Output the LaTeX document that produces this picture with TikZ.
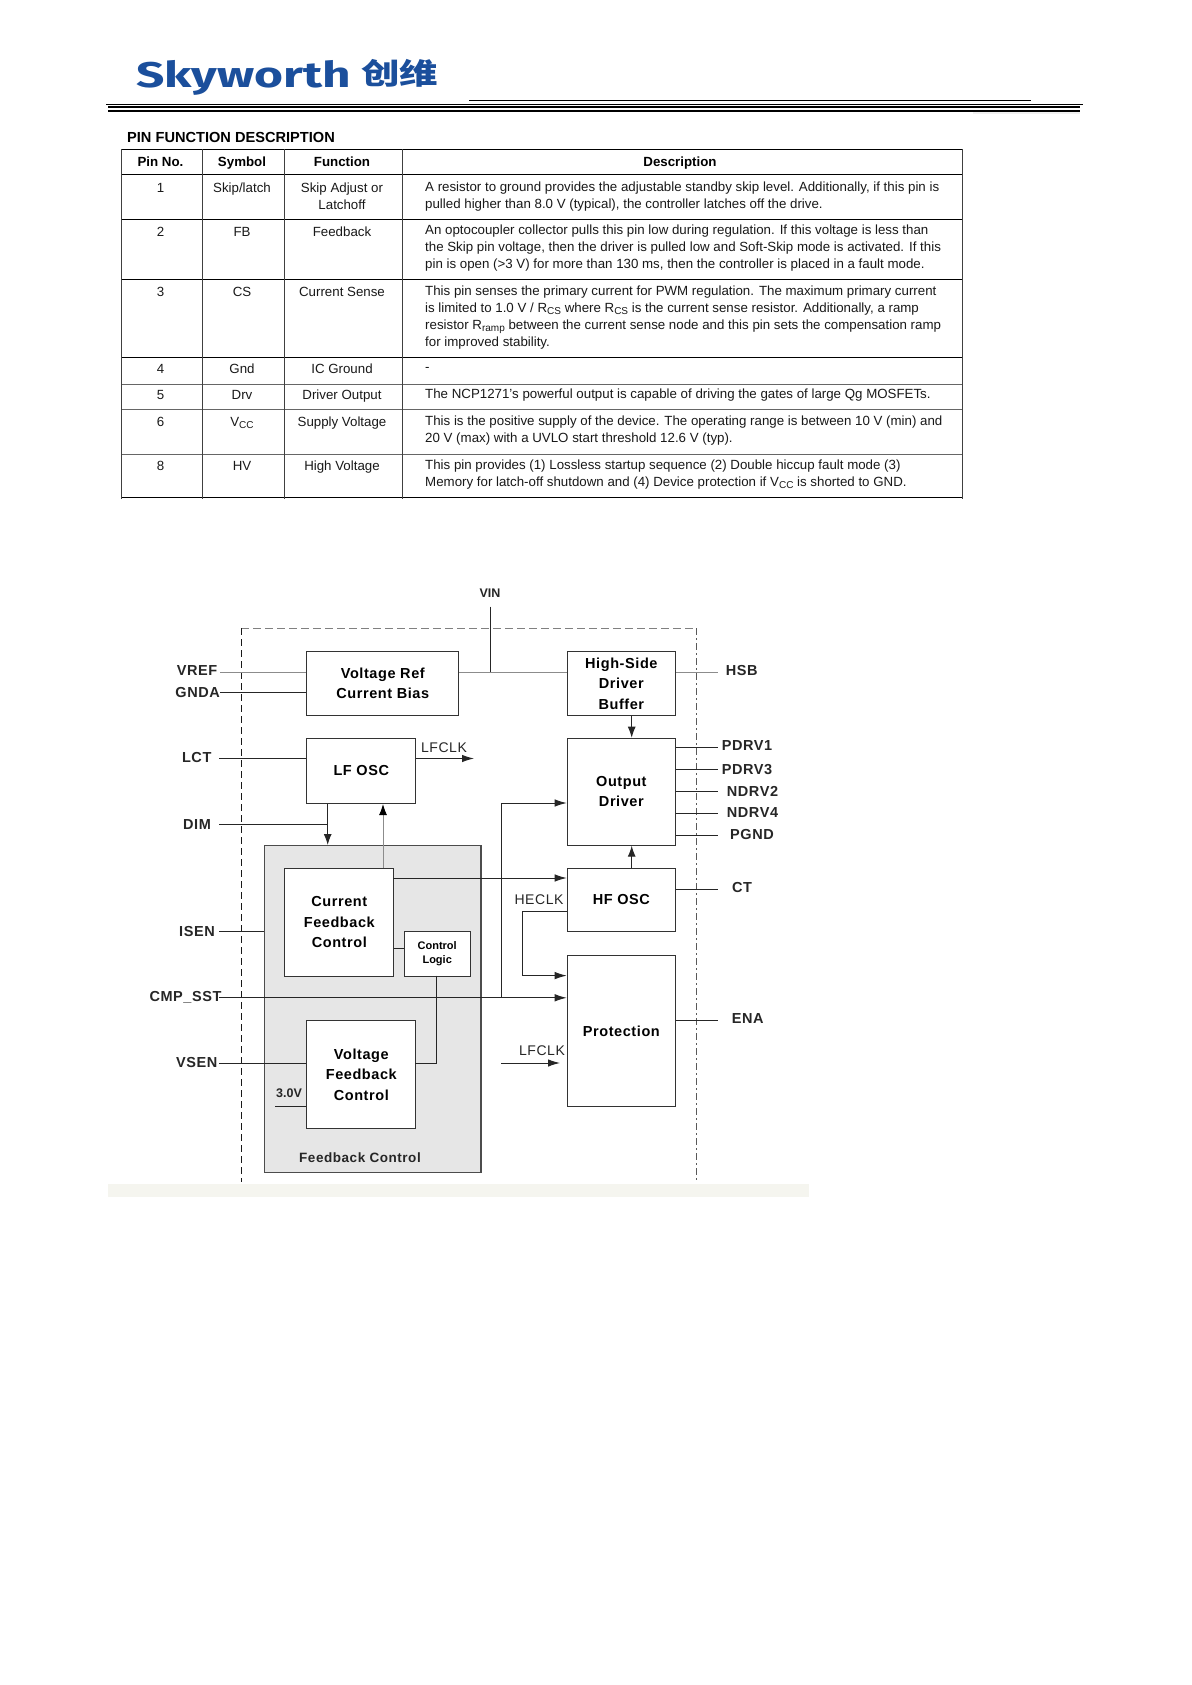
\documentclass[tikz,border=0pt]{standalone}
\usepackage{graphicx}
\usepackage{fontspec}
\setmainfont{Liberation Sans}
\newfontfamily\diagf[LetterSpace=4]{Liberation Sans}
\newfontfamily\cjkf{Noto Sans CJK SC}
\newfontfamily\logof{Fira Sans}
\usetikzlibrary{arrows.meta}
\definecolor{skyblue}{HTML}{1B4F9C}
\definecolor{fbgrey}{HTML}{E6E6E6}
\definecolor{bandc}{HTML}{F5F5EF}
\newcommand{\sbs}[1]{\smash{\raisebox{-0.3ex}{\fontsize{10}{10}\selectfont #1}}}
\tikzset{
  x=1pt,y=-1pt,
  tcell/.style={font=\fontsize{13.3}{17}\selectfont,inner sep=0pt,anchor=base,yshift=-4.6pt,text=black!90},
  tcellm/.style={font=\fontsize{13.3}{17}\selectfont,inner sep=0pt,align=center,text=black!90},
  tdesc/.style={font=\fontsize{13.3}{17}\selectfont,inner sep=0pt,align=left,anchor=west,text=black!90},
  thead/.style={font=\bfseries\fontsize{13.3}{17}\selectfont,inner sep=0pt,anchor=base,yshift=-4.6pt},
  rulea/.style={line width=1pt,black},
  ruleb/.style={line width=0.9pt,black!60},
  box/.style={draw=black!80,line width=1pt,fill=white,anchor=north west,inner sep=0pt,align=center,font=\diagf\bfseries\fontsize{14.5}{20.5}\selectfont},
  pin/.style={inner sep=0pt,font=\diagf\bfseries\fontsize{14.5}{17}\selectfont,text=black!85},
  lab/.style={inner sep=0pt,font=\diagf\fontsize{14}{17}\selectfont,text=black!85},
  wire/.style={line width=1pt,black!85},
  wirelt/.style={line width=0.9pt,black!45},
  arr/.style={wire,-{Latex[length=12pt,width=7.5pt]}},
  arrlt/.style={wirelt,-{Latex[length=11pt,width=8pt,black]}},
}
\begin{document}
\begin{tikzpicture}
\useasboundingbox (0,0) rectangle (1191,1685);
\fill[white] (0,0) rectangle (1191,1685);

% logo and header rules
\node[inner sep=0pt,anchor=west,text=skyblue] (logoa) at (136,77.5) {\resizebox*{215pt}{35pt}{\logof\bfseries Skyworth}};
\node[inner sep=0pt,anchor=west,text=skyblue] (logob) at (361,73) {\resizebox*{77pt}{28pt}{\cjkf\bfseries 创维}};
\draw[line width=1pt] (469,100.3) -- (1031,100.3);
\draw[line width=1pt] (106,104.7) -- (1083,104.7);
\draw[line width=2pt] (108,107.5) -- (1080,107.5);
\draw[line width=2pt] (108,110.7) -- (1080,110.7);
\fill[black!6] (973,112) rectangle (1080,114);

\node[inner sep=0pt,anchor=west,font=\bfseries\fontsize{14.6}{15}\selectfont] (title) at (127,137) {PIN FUNCTION DESCRIPTION};

% table rules
\foreach \yy in {149.5,175,220,280,357.5}{\draw[rulea] (121,\yy) -- (962,\yy);}
\foreach \yy in {384.3,409.3,454}{\draw[ruleb] (121,\yy) -- (962,\yy);}
\draw[rulea] (121,497) -- (962,497);
\foreach \xx in {121,202.7,284.4,402.4,962}{\draw[line width=0.8pt,black!75] (\xx,149.5) -- (\xx,498.5);}

% table head
\node[thead] (h1) at (160.5,162) {Pin No.};
\node[thead] (h2) at (242,162) {Symbol};
\node[thead] (h3) at (342,162) {Function};
\node[thead] (h4) at (680,162) {Description};

% rows
\node[tcell] (p1) at (160.5,187.7) {1};
\node[tcell] (s1) at (242,187.7) {Skip/latch};
\node[tcellm] (f1) at (342,196.2) {Skip Adjust or\\Latchoff};
\node[tdesc] (d1) at (425,196.2) {A resistor to ground provides the adjustable standby skip level. Additionally, if this pin is\\pulled higher than 8.0 V (typical), the controller latches off the drive.};
\node[tcell] (p2) at (160.5,232) {2};
\node[tcell] (s2) at (242,232) {FB};
\node[tcell] (f2) at (342,232) {Feedback};
\node[tdesc] (d2) at (425,248.5) {An optocoupler collector pulls this pin low during regulation. If this voltage is less than\\the Skip pin voltage, then the driver is pulled low and Soft-Skip mode is activated. If this\\pin is open (>3 V) for more than 130 ms, then the controller is placed in a fault mode.};
\node[tcell] (p3) at (160.5,291.7) {3};
\node[tcell] (s3) at (242,291.7) {CS};
\node[tcell] (f3) at (342,291.7) {Current Sense};
\node[tdesc] (d3) at (425,317.5) {This pin senses the primary current for PWM regulation. The maximum primary current\\is limited to 1.0 V / R\sbs{CS} where R\sbs{CS} is the current sense resistor. Additionally, a ramp\\resistor R\sbs{ramp} between the current sense node and this pin sets the compensation ramp\\for improved stability.};
\node[tcell] (p4) at (160.5,369.3) {4};
\node[tcell] (s4) at (242,369.3) {Gnd};
\node[tcell] (f4) at (342,369.3) {IC Ground};
\node[tdesc] (d4) at (425,369.3) {-};
\node[tcell] (p5) at (160.5,395) {5};
\node[tcell] (s5) at (242,395) {Drv};
\node[tcell] (f5) at (342,395) {Driver Output};
\node[tdesc] (d5) at (425,395) {The NCP1271's powerful output is capable of driving the gates of large Qg MOSFETs.};
\node[tcell] (p6) at (160.5,422) {6};
\node[tcell] (s6) at (242,422) {V\sbs{CC}};
\node[tcell] (f6) at (342,422) {Supply Voltage};
\node[tdesc] (d6) at (425,430.3) {This is the positive supply of the device. The operating range is between 10 V (min) and\\20 V (max) with a UVLO start threshold 12.6 V (typ).};
\node[tcell] (p8) at (160.5,466) {8};
\node[tcell] (s8) at (242,466) {HV};
\node[tcell] (f8) at (342,466) {High Voltage};
\node[tdesc] (d8) at (425,474.2) {This pin provides (1) Lossless startup sequence (2) Double hiccup fault mode (3)\\Memory for latch-off shutdown and (4) Device protection if V\sbs{CC} is shorted to GND.};

% bottom band
\fill[bandc] (107.5,1183.5) rectangle (809,1196.5);

% dashed boundary
\draw[line width=0.9pt,black!50,dash pattern=on 8pt off 4pt] (241.3,628) -- (696.7,628);
\draw[line width=1pt,black!90,dash pattern=on 7pt off 4pt] (241.3,628) -- (241.3,1182);
\draw[line width=1pt,black!65,dash pattern=on 7pt off 3pt on 2pt off 3pt] (696.7,628) -- (696.7,1182);

% blocks
\node[draw=black!70,line width=1.2pt,fill=fbgrey,anchor=north west,minimum width=216.6pt,minimum height=327pt,inner sep=0pt] (fb) at (263.7,845) {};
\node[box,minimum width=152pt,minimum height=64.5pt] (vref) at (306.3,650.8) {Voltage Ref\\Current Bias};
\node[box,minimum width=108.3pt,minimum height=64.5pt] (hs) at (566.7,650.8) {High-Side\\Driver\\Buffer};
\node[box,minimum width=109pt,minimum height=65.3pt] (lf) at (306.3,737.7) {LF OSC};
\node[box,minimum width=108.3pt,minimum height=107pt] (out) at (566.7,737.7) {Output\\Driver};
\node[box,minimum width=108.3pt,minimum height=63.5pt] (hf) at (566.7,867.5) {HF OSC};
\node[box,minimum width=108.3pt,minimum height=151pt] (prot) at (566.7,955) {Protection};
\node[box,minimum width=109pt,minimum height=108pt] (cur) at (284.3,867.5) {Current\\Feedback\\Control};
\node[box,minimum width=66pt,minimum height=44.6pt,font=\bfseries\fontsize{11}{13.5}\selectfont] (ctl) at (403.7,931) {Control\\Logic};
\node[box,minimum width=109pt,minimum height=108pt] (vfb) at (306.3,1020) {Voltage\\Feedback\\Control};
\node[pin,font=\diagf\bfseries\fontsize{13.5}{17}\selectfont] (fblab) at (360,1158) {Feedback Control};

% pin labels
\node[pin,font=\bfseries\fontsize{12.5}{15}\selectfont] (lvin) at (490,593) {VIN};
\node[pin] (lvref) at (197,671) {VREF};
\node[pin] (lgnda) at (197.7,692.8) {GNDA};
\node[pin] (llct) at (196.7,758) {LCT};
\node[pin] (ldim) at (197,824.3) {DIM};
\node[pin] (lisen) at (197,931) {ISEN};
\node[pin] (lcmp) at (185.5,997) {CMP\_SST};
\node[pin] (lvsen) at (196.7,1062) {VSEN};
\node[pin] (lhsb) at (741.7,671) {HSB};
\node[pin] (lp1) at (747,745.5) {PDRV1};
\node[pin] (lp3) at (747,770) {PDRV3};
\node[pin] (ln2) at (752.5,791) {NDRV2};
\node[pin] (ln4) at (752.5,812.5) {NDRV4};
\node[pin] (lpg) at (752,835) {PGND};
\node[pin] (lct) at (742,887) {CT};
\node[pin] (lena) at (747.7,1019) {ENA};
\node[lab] (tlf1) at (444,748) {LFCLK};
\node[lab] (tlf2) at (542,1051) {LFCLK};
\node[lab] (the) at (539,900) {HECLK};
\node[lab,font=\bfseries\fontsize{12.5}{15}\selectfont] (t3v) at (289,1093) {3.0V};

% free ends and junctions
\coordinate (cvin) at (490,606.7);
\coordinate (jvin) at (490,672);
\coordinate (cvref) at (220,672);
\coordinate (cgnda) at (220,692.8);
\coordinate (clct) at (219,758.5);
\coordinate (clfo) at (474,758.5);
\coordinate (cdim) at (219,824.3);
\coordinate (jdim) at (327.7,824.3);
\coordinate (cisen) at (219,931);
\coordinate (ccmp) at (219,997.8);
\coordinate (jcmp) at (501.3,997.8);
\coordinate (cvsen) at (219,1063);
\coordinate (c3v) at (275,1106.5);
\coordinate (clf2a) at (501,1063);
\coordinate (clf2b) at (560,1063);
\coordinate (chea) at (522.7,911);
\coordinate (cheb) at (522.7,975.6);
\coordinate (cout) at (501.3,803);
\coordinate (rhsb) at (718,672);
\coordinate (rp1) at (718,747.6);
\coordinate (rp3) at (718,769.6);
\coordinate (rn2) at (718,791.6);
\coordinate (rn4) at (718,813);
\coordinate (rpg) at (718,835.4);
\coordinate (rct) at (718,889);
\coordinate (rena) at (718,1020);
\coordinate (curt) at (383,867.5);
\coordinate (curr) at (393.3,878);
\coordinate (ctlb) at (436,975.6);
\coordinate (vfbr) at (415.3,1063);

% connectors
\draw[wire] (cvin) -- (jvin);
\draw[wirelt] (cvref) -- (vref.west |- cvref);
\draw[wire] (cgnda) -- (vref.west |- cgnda);
\draw[wirelt] (vref.east |- jvin) -- (hs.west |- jvin);
\draw[wirelt] (hs.east |- rhsb) -- (rhsb);
\draw[wire] (clct) -- (lf.west |- clct);
\draw[arr] (lf.east |- clfo) -- (clfo);
\draw[wire] (cdim) -- (jdim);
\draw[wire,-{Latex[length=11pt,width=8pt]}] (lf.south -| jdim) -- (fb.north -| jdim);
\draw[arrlt] (curt) -- (lf.south -| curt);
\draw[arr] (curr) -- (hf.west |- curr);
\draw[wire] (cisen) -- (fb.west |- cisen);
\draw[wire] (cur.east |- 0,948.8) -- (ctl.west |- 0,948.8);
\draw[wire] (ctlb) |- (vfbr);
\draw[arr] (ccmp) -- (prot.west |- ccmp);
\draw[arr] (jcmp) |- (out.west |- cout);
\draw[wire] (cvsen) -- (vfb.west |- cvsen);
\draw[wire] (c3v) -- (vfb.west |- c3v);
\draw[arr] (clf2a) -- (clf2b);
\draw[arr] (hf.west |- chea) -- (chea) -- (cheb) -- (prot.west |- cheb);
\draw[wire,-{Latex[length=11pt,width=8pt]}] (hs.south -| 631.7,0) -- (out.north -| 631.7,0);
\draw[wire,-{Latex[length=11pt,width=8pt]}] (hf.north -| 631.7,0) -- (out.south -| 631.7,0);
\draw[wire] (out.east |- rp1) -- (rp1);
\draw[wire] (out.east |- rp3) -- (rp3);
\draw[wire] (out.east |- rn2) -- (rn2);
\draw[wire] (out.east |- rn4) -- (rn4);
\draw[wire] (out.east |- rpg) -- (rpg);
\draw[wire] (hf.east |- rct) -- (rct);
\draw[wire] (prot.east |- rena) -- (rena);
\end{tikzpicture}
\end{document}
